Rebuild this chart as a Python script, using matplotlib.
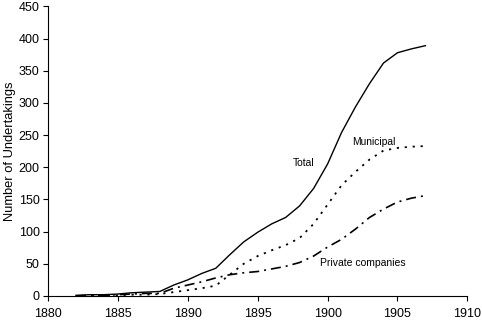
import matplotlib
matplotlib.use("Agg")
import matplotlib.pyplot as plt

years = list(range(1882, 1908))
total = [1, 2, 2, 3, 5, 6, 7, 17, 25, 35, 43, 64, 84, 99, 112, 122, 140, 167,
         205, 254, 294, 330, 362, 378, 384, 389]
municipal = [0, 0, 0, 1, 2, 2, 3, 6, 9, 12, 16, 33, 50, 62, 71, 79, 90, 112,
             142, 172, 193, 212, 226, 230, 232, 233]
private = [0, 1, 1, 2, 3, 4, 4, 12, 17, 22, 28, 33, 36, 38, 42, 46, 52, 62,
           76, 88, 104, 122, 135, 146, 152, 156]
labels = ["Total", "Municipal", "Private companies"]

plt.rcParams['font.family'] = ['Liberation Sans', 'DejaVu Sans']
fig = plt.figure(figsize=(4.82, 3.21), dpi=100)
ax = fig.add_axes([0.0996, 0.078, 0.870, 0.902])

ax.plot(years, total, color='black', lw=1.0, ls='-')
ax.plot(years, municipal, color='black', lw=1.3, ls=(0, (1.2, 3.2)))
ax.plot(years, private, color='black', lw=1.2, ls=(0, (6, 3, 1.2, 3)))

ax.text(1898.3, 207, labels[0], fontsize=7.4, ha='center', va='center')
ax.text(1903.3, 240, labels[1], fontsize=7.4, ha='center', va='center')
ax.text(1902.5, 51, labels[2], fontsize=7.5, ha='center', va='center')

ax.set_xlim(1880, 1910)
ax.set_ylim(0, 450)
ax.set_xticks(range(1880, 1911, 5))
ax.set_yticks(range(0, 451, 50))
ax.tick_params(labelsize=9, length=3.5, width=0.8, direction='out')
ax.tick_params(axis='x', pad=5)
ax.tick_params(axis='y', pad=2.5)
ax.set_ylabel("Number of Undertakings", fontsize=9.3, labelpad=2)
for s in ['top', 'right']:
    ax.spines[s].set_visible(False)
for s in ['left', 'bottom']:
    ax.spines[s].set_linewidth(0.8)

fig.savefig("out.png", dpi=100)
